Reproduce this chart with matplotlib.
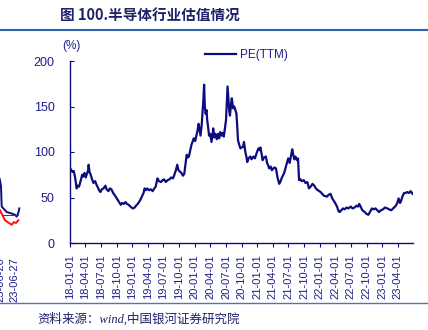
import matplotlib
matplotlib.use('Agg')
import matplotlib.pyplot as plt
import pandas as pd
from matplotlib.lines import Line2D

# PE(TTM) of the semiconductor sector
dates = [
    '2018-01-02', '2018-01-09', '2018-01-16', '2018-01-23', '2018-01-30', '2018-02-06', '2018-02-09',
    '2018-02-14', '2018-02-23', '2018-03-01', '2018-03-08', '2018-03-13', '2018-03-20', '2018-03-27',
    '2018-04-03', '2018-04-10', '2018-04-17', '2018-04-20', '2018-04-25', '2018-05-02', '2018-05-10',
    '2018-05-18', '2018-05-28', '2018-06-05', '2018-06-13', '2018-06-20', '2018-06-28', '2018-07-06',
    '2018-07-16', '2018-07-27', '2018-08-03', '2018-08-14', '2018-08-22', '2018-08-31', '2018-09-10',
    '2018-09-18', '2018-09-25', '2018-10-11', '2018-10-18', '2018-10-25', '2018-11-02', '2018-11-12',
    '2018-11-21', '2018-11-29', '2018-12-10', '2018-12-20',
    '2019-01-03', '2019-01-14', '2019-01-22', '2019-02-01', '2019-02-15', '2019-02-25', '2019-03-07',
    '2019-03-13', '2019-03-20', '2019-03-28', '2019-04-08', '2019-04-19', '2019-04-29', '2019-05-09',
    '2019-05-17', '2019-05-27', '2019-06-05', '2019-06-17', '2019-06-26', '2019-07-04', '2019-07-15',
    '2019-07-25', '2019-08-06', '2019-08-15', '2019-08-26', '2019-09-03', '2019-09-12', '2019-09-20',
    '2019-09-27', '2019-10-14', '2019-10-23', '2019-10-31', '2019-11-08', '2019-11-14', '2019-11-20',
    '2019-11-27', '2019-12-05', '2019-12-12', '2019-12-18', '2019-12-25',
    '2020-01-03', '2020-01-10', '2020-01-17', '2020-01-23', '2020-02-03', '2020-02-10', '2020-02-14',
    '2020-02-19', '2020-02-24', '2020-02-28', '2020-03-04', '2020-03-09', '2020-03-13', '2020-03-18',
    '2020-03-24', '2020-03-31', '2020-04-07', '2020-04-14', '2020-04-17', '2020-04-24', '2020-04-30',
    '2020-05-08', '2020-05-15', '2020-05-22', '2020-05-28', '2020-06-05', '2020-06-12', '2020-06-18',
    '2020-06-24', '2020-07-01', '2020-07-06', '2020-07-10', '2020-07-15', '2020-07-20', '2020-07-24',
    '2020-07-30', '2020-08-04', '2020-08-11', '2020-08-18', '2020-08-25', '2020-08-31', '2020-09-04',
    '2020-09-09', '2020-09-16', '2020-09-23', '2020-10-09', '2020-10-14', '2020-10-22', '2020-10-29',
    '2020-11-02', '2020-11-10', '2020-11-20', '2020-11-27', '2020-12-08', '2020-12-17', '2020-12-29',
    '2021-01-07', '2021-01-13', '2021-01-18', '2021-01-25', '2021-01-31', '2021-02-08', '2021-02-19',
    '2021-02-26', '2021-03-05', '2021-03-10', '2021-03-19', '2021-03-26', '2021-04-09', '2021-04-19',
    '2021-04-28', '2021-05-08', '2021-05-14', '2021-05-24', '2021-06-06', '2021-06-16', '2021-06-25',
    '2021-06-30', '2021-07-08', '2021-07-16', '2021-07-23', '2021-07-29', '2021-08-04', '2021-08-11',
    '2021-08-19', '2021-08-26', '2021-09-01', '2021-09-09', '2021-09-17', '2021-09-29', '2021-10-08',
    '2021-10-19', '2021-10-29', '2021-11-08', '2021-11-18', '2021-11-29', '2021-12-08', '2021-12-20',
    '2022-01-05', '2022-01-14', '2022-01-24', '2022-02-11', '2022-02-21', '2022-03-04', '2022-03-14',
    '2022-03-24', '2022-03-31', '2022-04-11', '2022-04-20', '2022-04-26', '2022-05-06', '2022-05-16',
    '2022-05-25', '2022-06-06', '2022-06-17', '2022-06-30', '2022-07-11', '2022-07-22', '2022-08-03',
    '2022-08-12', '2022-08-19', '2022-08-29', '2022-09-06', '2022-09-20', '2022-09-30', '2022-10-11',
    '2022-10-20', '2022-11-01', '2022-11-10', '2022-11-22', '2022-12-02', '2022-12-12', '2022-12-23',
    '2023-01-05', '2023-01-16', '2023-01-30', '2023-02-10', '2023-02-20', '2023-02-28', '2023-03-10',
    '2023-03-21', '2023-03-29', '2023-04-06', '2023-04-14', '2023-04-20', '2023-04-28', '2023-05-08',
    '2023-05-18', '2023-05-26', '2023-06-06', '2023-06-15', '2023-06-27',
]
pe = [
    82, 80, 78, 79, 73, 64, 60,
    63, 62, 66, 71, 75, 73, 77,
    72, 76, 80, 86, 78, 75, 70,
    66, 68, 64, 61, 58, 56, 59,
    60, 63, 59, 57, 60, 59, 55,
    53, 51, 46, 44, 42, 44, 43,
    45, 43, 42, 40,
    38, 39, 41, 43, 47, 51, 55,
    60, 58, 60, 58, 59, 57, 60,
    62, 71, 68, 67, 69, 70, 67,
    69, 70, 72, 71, 75, 80, 86,
    80, 77, 74, 76, 88, 97, 94,
    95, 102, 108, 111, 115,
    112, 118, 124, 131, 118, 130, 142,
    155, 174, 150, 142, 146, 135, 128,
    118, 120, 111, 120, 126, 116, 120,
    114, 120, 115, 122, 118, 121, 117,
    125, 135, 155, 172, 158, 145, 140,
    152, 159, 148, 150, 146, 142, 130,
    113, 108, 104, 106, 111, 100, 94,
    89, 93, 95, 92, 95, 93, 100,
    104, 102, 105, 98, 91, 94, 95,
    88, 85, 82, 84, 80, 83, 82,
    72, 65, 67, 72, 77, 84, 90,
    93, 88, 96, 103, 97, 92, 95,
    91, 93, 69, 70, 68, 69, 66,
    67, 60, 62, 65, 63, 60, 58,
    56, 54, 52, 51, 53, 54, 49,
    46, 44, 40, 35, 34, 36, 38,
    37, 39, 38, 40, 38, 39, 41,
    40, 43, 39, 36, 34, 32, 31,
    34, 38, 37, 38, 36, 34, 36,
    37, 39, 38, 37, 36, 37, 39,
    41, 44, 49, 44, 46, 51, 55,
    55, 56, 55, 57, 54,
]

# cut-off right edge of the neighbouring chart (x in pixels of that strip)
prev_x = [-3, 0, 1, 1.7, 6.7, 10, 15, 16.7, 18.3, 19.3]
prev_blue = [80, 69, 62, 40, 34, 33, 31, 29, 33, 38]
prev_red_x = [0, 5, 11.7, 14, 16, 18.3]
prev_red = [36, 25, 20, 23, 22, 25]
prev_level_x = [3, 18]
prev_level = [31, 31]
prev_ticks = [0, 14]
prev_labels = ['23-06-20', '23-06-27']

navy = '#0c0c80'
text_navy = '#1e1e8c'

plt.rcParams['font.family'] = ['Liberation Sans', 'Noto Sans CJK SC']

W, H = 428, 330
fig = plt.figure(figsize=(W / 100, H / 100), dpi=100)

# main chart
ax = fig.add_axes([70 / W, 1 - 243 / H, 343 / W, 182 / H])
ax.plot(pd.to_datetime(dates), pe, color=navy, lw=1.6, label='PE(TTM)')
ax.set_ylim(0, 200)
ax.set_yticks([0, 50, 100, 150, 200])
ax.set_xlim(pd.Timestamp('2018-01-01'), pd.Timestamp('2023-06-29'))
ticks = pd.date_range('2018-01-01', '2023-04-01', freq='QS')
ax.set_xticks(ticks)
ax.set_xticklabels([t.strftime('%y-%m-%d') for t in ticks], rotation=90)
for s in ['top', 'right']:
    ax.spines[s].set_visible(False)
for s in ['left', 'bottom']:
    ax.spines[s].set_color(navy)
    ax.spines[s].set_linewidth(1.0)
ax.tick_params(axis='y', direction='in', length=3, color=navy, labelcolor=text_navy,
               labelsize=9, pad=11)
ax.tick_params(axis='x', direction='out', length=3, color=navy, labelcolor=text_navy,
               labelsize=8, pad=5)
fig.text(71 / W, 1 - 46 / H, '(%)', ha='center', va='center', fontsize=8.5, color=text_navy)
fig.legend(loc='upper left', bbox_to_anchor=(199 / W, 1 - 43 / H), frameon=False,
           handlelength=2.6, handletextpad=0.4, fontsize=8.5, labelcolor=text_navy, borderpad=0)

# sliver of the previous chart
sx = fig.add_axes([-10 / W, 1 - 243 / H, 32 / W, 182 / H])
sx.plot(prev_x, prev_blue, color=navy, lw=1.4)
sx.plot(prev_red_x, prev_red, color='#ff1010', lw=1.4)
sx.plot(prev_level_x, prev_level, color='#3030a0', lw=0.7)
sx.set_xlim(-10, 22)
sx.set_ylim(0, 200)
sx.set_xticks(prev_ticks)
sx.set_xticklabels(prev_labels, rotation=90)
sx.set_yticks([])
sx.tick_params(axis='x', length=0, labelcolor=text_navy, labelsize=8, pad=10)
sx.patch.set_visible(False)
for s in sx.spines.values():
    s.set_visible(False)

# header, rules and source
fig.text(60 / W, 1 - 16 / H, '图 100.半导体行业估值情况', fontsize=10.5, fontweight='bold',
         color='#20206a', va='center', family=['Noto Sans CJK SC'])
fig.add_artist(Line2D([0, 1], [1 - 30 / H] * 2, color='#2a64a8', lw=1.5, transform=fig.transFigure))
fig.add_artist(Line2D([0, 1], [1 - 303 / H] * 2, color='#4a78b0', lw=1.0, transform=fig.transFigure))
fig.text(37 / W, 1 - 319 / H, '资料来源：wind,中国银河证券研究院', fontsize=9, style='italic',
         color='#20206e', va='center', family=['Liberation Serif', 'Noto Sans CJK SC'])

fig.savefig('out.png', dpi=100)
